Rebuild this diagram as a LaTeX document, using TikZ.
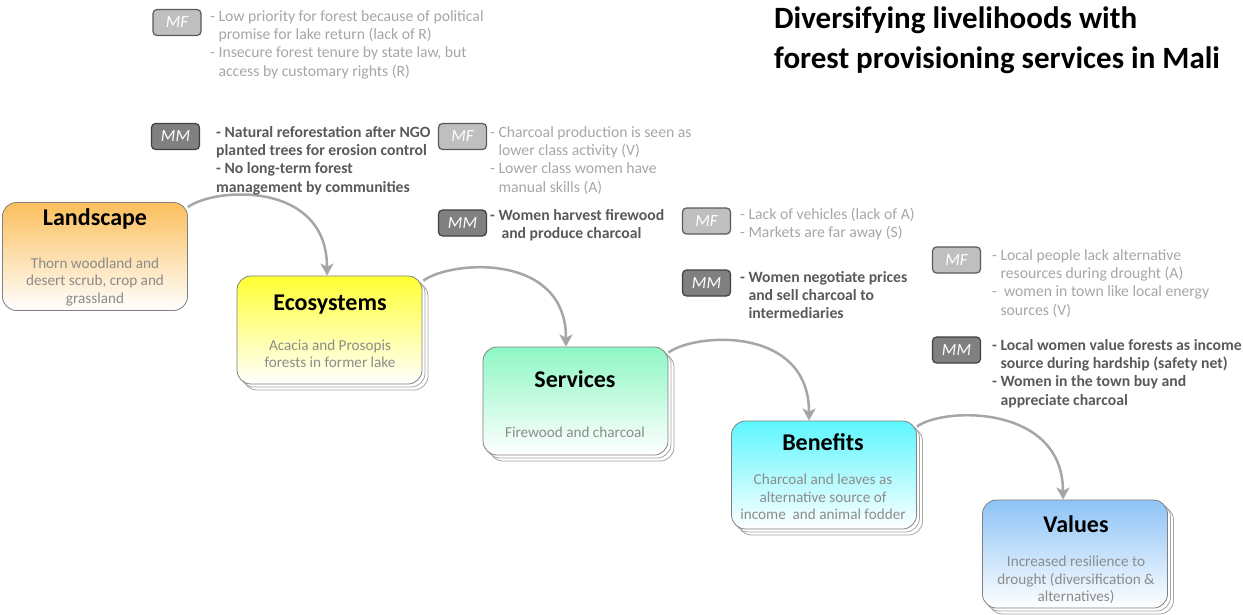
\documentclass[tikz,border=0pt]{standalone}
\usepackage{fontspec}
\setmainfont{Carlito}
\usetikzlibrary{arrows.meta}
\definecolor{landcol}{HTML}{FBBF5C}
\definecolor{ecocol}{HTML}{FFFF33}
\definecolor{servcol}{HTML}{8EF7C4}
\definecolor{bencol}{HTML}{5DF6FE}
\definecolor{valcol}{HTML}{8DC3F6}
\definecolor{flowgray}{HTML}{A6A6A6}
\definecolor{mfgray}{HTML}{A6A6A6}
\definecolor{mmgray}{HTML}{595959}
\definecolor{descgray}{HTML}{8C8C8C}
\begin{document}
\begin{tikzpicture}[x=1pt, y=-1pt,
	box/.style={draw=gray, line width=0.8pt, rounded corners=14pt, minimum width=185pt, minimum height=108pt, bottom color=white},
	stack/.style={draw=gray!70, line width=0.8pt, fill=white, rounded corners=14pt, minimum width=185pt, minimum height=108pt},
	boxtitle/.style={anchor=base, font=\fontsize{24}{28}\selectfont\bfseries},
	boxdesc/.style={align=center, text=descgray, font=\fontsize{15.2}{17.5}\selectfont},
	flow/.style={draw=flowgray, line width=2.5pt, -{Stealth[length=12pt, width=13pt, inset=3pt]}},
	tagmf/.style={draw=mmgray, line width=1.2pt, fill=gray!50, rounded corners=4pt, minimum width=48pt, minimum height=26pt, text=white, font=\fontsize{17}{20}\selectfont\itshape},
	tagmm/.style={tagmf, draw=black!75, fill=gray},
	mftext/.style={anchor=north west, inner sep=0pt, align=left, text=mfgray, font=\fontsize{15.7}{18.3}\selectfont},
	mmtext/.style={mftext, text=mmgray, font=\fontsize{15.7}{18.3}\selectfont\bfseries}
]
	\useasboundingbox (0,0) rectangle (1243,614);
	%title
	\node[anchor=north west, inner sep=0pt, align=left, font=\fontsize{31}{40}\selectfont\bfseries] (title) at (774,7)
	{Diversifying livelihoods with\\forest provisioning services in Mali};
	
	%stacked copies behind the boxes
	\foreach \cx/\cy in {329.5/330, 575.5/401, 824/475, 1075/554}
	\foreach \d in {6,3}
	\node[stack] at (\cx+\d, \cy+\d) {};
	
	%boxes
	\node[box, top color=landcol] (land) at (95,256.5) {};
	\node[box, top color=ecocol] (eco) at (329.5,330) {};
	\node[box, top color=servcol] (serv) at (575.5,401) {};
	\node[box, top color=bencol] (ben) at (824,475) {};
	\node[box, top color=valcol] (val) at (1075,554) {};
	
	%box texts
	\node[boxtitle] (landtitle) at (95,225) {Landscape};
	\node[boxdesc] (landdesc) at (95,282) {Thorn woodland and\\desert scrub, crop and\\grassland};
	\node[boxtitle] (ecotitle) at (330,310) {Ecosystems};
	\node[boxdesc] (ecodesc) at (330,354) {Acacia and Prosopis\\forests in former lake};
	\node[boxtitle] (servtitle) at (575,387) {Services};
	\node[boxdesc] (servdesc) at (575,432) {Firewood and charcoal};
	\node[boxtitle] (bentitle) at (823,450) {Benefits};
	\node[boxdesc] (bendesc) at (823,497) {Charcoal and leaves as\\alternative source of\\income\ \ and animal fodder};
	\node[boxtitle] (valtitle) at (1076,532) {Values};
	\node[boxdesc] (valdesc) at (1076,580) {Increased resilience to\\drought (diversification \&\\alternatives)};
	
	%arrows
	\draw[flow] ([yshift=-5pt]land.north east) .. controls +(27,-20) and +(0,-95) .. ([xshift=-2.5pt]eco.north);
	\draw[flow] ([xshift=1pt, yshift=-5pt]eco.north east) .. controls +(27,-20) and +(0,-95) .. ([xshift=-9.5pt]serv.north);
	\draw[flow] ([yshift=-6pt]serv.north east) .. controls +(27,-20) and +(0,-95) .. ([xshift=-15pt]ben.north);
	\draw[flow] ([yshift=-6pt]ben.north east) .. controls +(27,-20) and +(0,-95) .. ([xshift=-12pt]val.north);
	
	%MF and MM tags
	\node[tagmf] (mfland) at (177,22.5) {MF};
	\node[mftext] (mflandtext) at (210,10) {- Low priority for forest because of political\\\phantom{- }promise for lake return (lack of R)\\- Insecure forest tenure by state law, but\\\phantom{- }access by customary rights (R)};
	\node[tagmm] (mmland) at (175.5,136.5) {MM};
	\node[mmtext] (mmlandtext) at (216,126) {- Natural reforestation after NGO\\planted trees for erosion control\\- No long-term forest\\management by communities};
	
	\node[tagmf] (mfeco) at (462.5,136.5) {MF};
	\node[mftext] (mfecotext) at (490,126) {- Charcoal production is seen as\\\phantom{- }lower class activity (V)\\- Lower class women have\\\phantom{- }manual skills (A)};
	\node[tagmm] (mmeco) at (462.5,223) {MM};
	\node[mmtext] (mmecotext) at (490,209) {- Women harvest firewood\\\phantom{- }\hspace{3pt}and produce charcoal};
	
	\node[tagmf] (mfserv) at (706.5,221) {MF};
	\node[mftext] (mfservtext) at (740,208) {- Lack of vehicles (lack of A)\\- Markets are far away (S)};
	\node[tagmm] (mmserv) at (706.5,283) {MM};
	\node[mmtext] (mmservtext) at (740,271) {- Women negotiate prices\\\phantom{- }and sell charcoal to\\\phantom{- }intermediaries};
	
	\node[tagmf] (mfben) at (956.5,260) {MF};
	\node[mftext] (mfbentext) at (992,249) {- Local people lack alternative\\\phantom{- }resources during drought (A)\\-\ \ women in town like local energy\\\phantom{- }sources (V)};
	\node[tagmm] (mmben) at (956.5,350) {MM};
	\node[mmtext] (mmbentext) at (992,339) {- Local women value forests as income\\\phantom{- }source during hardship (safety net)\\- Women in the town buy and\\\phantom{- }appreciate charcoal};
\end{tikzpicture}
\end{document}
